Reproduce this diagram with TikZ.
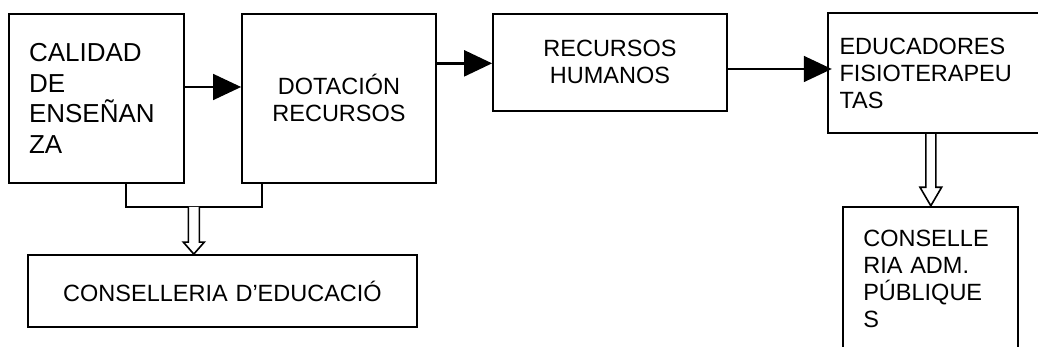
\documentclass[tikz,border=0pt]{standalone}
\usepackage{fontspec}
\setmainfont{Liberation Sans}
\usetikzlibrary{arrows.meta,calc}
\tikzset{
	caixa/.style={draw, line width=1.8pt, inner xsep=0pt, inner ysep=0pt, font=\fontsize{23.5}{27}\selectfont},
	fletxa/.style={line width=1.6pt, -{Triangle[length=28pt,width=26pt]}},
	buida/.style={line width=1.6pt, fill=white}
}
\newcommand{\fletxabuida}[5]{%
	\draw[buida] ($(#1)+(-#3,0)$) -- ($(#2)+(-#3,#5)$) -- ($(#2)+(-#4,#5)$) -- (#2)
		-- ($(#2)+(#4,#5)$) -- ($(#2)+(#3,#5)$) -- ($(#1)+(#3,0)$);}

\begin{document}
\begin{tikzpicture}[x=1pt,y=1pt]
		\useasboundingbox (0,0) rectangle (1038,347);

		\node[caixa, inner xsep=20pt, text width=135pt, minimum height=168.7pt, align=left,
			font=\fontsize{26}{30.5}\selectfont] (cal) at (96.5,248.65) {CALIDAD\\DE\\ENSEÑAN\\ZA};
		\node[caixa, text width=194pt, minimum height=168.7pt, align=center] (dot) at (339,248.65) {DOTACIÓN\\RECURSOS};
		\node[caixa, text width=234pt, minimum height=96.7pt, align=center] (rec) at (610,284.65) {RECURSOS\\HUMANOS};
		\node[caixa, inner xsep=11.5pt, text width=199pt, minimum height=120.6pt, align=left] (edu) at (939,274) {EDUCADORES\\FISIOTERAPEU\\TAS};
		\node[caixa, inner xsep=20pt, text width=135pt, minimum height=144.8pt, align=left] (pub) at (930.8,67.9) {CONSELLE\\RIA ADM.\\PÚBLIQUE\\S};
		\node[caixa, text width=389pt, minimum height=72pt, align=center] (edc) at (222.5,56) {CONSELLERIA D’EDUCACIÓ};

		\coordinate (ixdot) at ([yshift=35pt]dot.east);
		\draw[fletxa] ([yshift=11.35pt]cal.east) -- ([yshift=11.35pt]dot.west);
		\draw[fletxa, line width=2.4pt] (ixdot) -- (rec.west |- ixdot);
		\draw[fletxa] ([yshift=-6.65pt]rec.east) -- ([xshift=4.7pt,yshift=4pt]edu.west);

		\coordinate (unio) at (193.8,140);
		\draw[line width=1.6pt] ([xshift=29.5pt]cal.south) |- (unio) -| ([xshift=-77pt]dot.south);

		\fletxabuida{unio}{unio |- edc.north}{5.5pt}{10.5pt}{12pt}
		\fletxabuida{pub.north |- edu.south}{pub.north}{5pt}{10.8pt}{18.5pt}
	\end{tikzpicture}
\end{document}
